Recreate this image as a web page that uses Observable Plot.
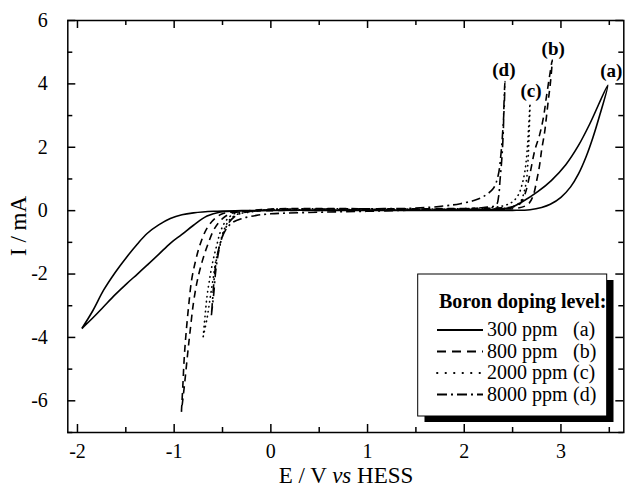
<!DOCTYPE html>
<html><head><meta charset="utf-8">
<script src="https://cdn.jsdelivr.net/npm/d3@7"></script>
<script src="https://cdn.jsdelivr.net/npm/@observablehq/plot@0.6"></script>
<style>body{margin:0;background:#fff}</style>
</head><body><div id="chart"></div>
<script>
// ---- data: potential E (V vs HESS) and current I (mA), in scan order ----
const a_E = [-1.955,-1.84,-1.73,-1.61,-1.49,-1.38,-1.28,-1.16,-1.04,-0.92,-0.80,-0.59,-0.30,0.00,0.50,1.00,1.50,2.00,2.30,2.50,2.68,2.80,2.89,3.00,3.10,3.18,3.26,3.33,3.40,3.485,3.30,3.18,3.05,2.90,2.76,2.60,2.48,2.30,2.00,1.50,1.00,0.50,0.00,-0.30,-0.52,-0.66,-0.80,-0.92,-1.04,-1.16,-1.28,-1.38,-1.49,-1.61,-1.73,-1.84,-1.955];
const a_I = [-3.72,-3.15,-2.51,-1.95,-1.46,-1.05,-0.72,-0.45,-0.25,-0.13,-0.07,-0.02,0.00,0.01,0.01,0.01,0.01,0.01,0.01,0.01,0.03,0.10,0.20,0.42,0.75,1.15,1.70,2.30,3.00,3.96,2.75,2.05,1.45,0.95,0.60,0.28,0.10,0.04,0.03,0.02,0.02,0.02,0.01,-0.01,-0.04,-0.17,-0.46,-0.75,-1.03,-1.38,-1.72,-2.00,-2.30,-2.65,-3.03,-3.38,-3.72];
const b_E = [-0.925,-0.91,-0.895,-0.875,-0.85,-0.82,-0.78,-0.73,-0.66,-0.58,-0.50,-0.35,0.00,0.50,1.00,1.50,2.00,2.30,2.55,2.66,2.71,2.75,2.78,2.80,2.83,2.85,2.87,2.89,2.91,2.88,2.85,2.82,2.78,2.73,2.68,2.63,2.58,2.50,2.30,2.00,1.50,1.00,0.50,0.00,-0.30,-0.42,-0.50,-0.58,-0.65,-0.71,-0.76,-0.80,-0.835,-0.86,-0.89,-0.925];
const b_I = [-6.35,-5.50,-4.60,-3.80,-3.00,-2.20,-1.60,-1.05,-0.55,-0.25,-0.10,-0.03,0.00,0.01,0.02,0.03,0.04,0.05,0.08,0.20,0.45,0.96,1.45,1.91,2.45,2.96,3.50,4.00,4.75,4.20,3.60,2.96,2.40,1.91,1.17,0.54,0.23,0.12,0.08,0.07,0.06,0.06,0.07,0.05,-0.03,-0.10,-0.25,-0.55,-1.05,-1.60,-2.20,-2.90,-3.80,-4.50,-5.40,-6.35];
const c_E = [-0.70,-0.68,-0.66,-0.63,-0.60,-0.56,-0.52,-0.46,-0.38,-0.20,0.00,0.50,1.00,1.50,2.00,2.30,2.50,2.58,2.62,2.645,2.66,2.67,2.68,2.665,2.65,2.63,2.60,2.56,2.50,2.40,2.20,2.00,1.50,1.00,0.50,0.00,-0.20,-0.35,-0.43,-0.49,-0.53,-0.57,-0.60,-0.63,-0.66,-0.70];
const c_I = [-3.98,-3.30,-2.70,-2.10,-1.60,-1.10,-0.65,-0.30,-0.10,-0.02,0.02,0.03,0.04,0.04,0.05,0.05,0.12,0.28,0.60,1.00,1.60,2.30,3.38,2.60,1.90,1.30,0.85,0.50,0.28,0.15,0.08,0.06,0.05,0.05,0.06,0.04,-0.04,-0.12,-0.30,-0.65,-1.10,-1.60,-2.20,-2.80,-3.40,-3.98];
const d_E = [-0.615,-0.59,-0.57,-0.54,-0.50,-0.45,-0.38,-0.28,0.00,0.50,1.00,1.50,1.80,1.96,2.10,2.20,2.30,2.35,2.38,2.40,2.415,2.42,2.41,2.405,2.39,2.37,2.355,2.33,2.20,2.00,1.50,1.00,0.50,0.00,-0.15,-0.30,-0.40,-0.47,-0.52,-0.56,-0.585,-0.60,-0.615];
const d_I = [-3.30,-2.60,-1.90,-1.30,-0.80,-0.45,-0.20,-0.06,0.03,0.05,0.06,0.08,0.15,0.22,0.32,0.45,0.70,1.10,1.80,2.60,3.40,4.07,3.30,2.60,1.70,0.96,0.44,0.18,0.10,0.06,0.02,-0.02,-0.05,-0.10,-0.15,-0.25,-0.38,-0.62,-1.00,-1.50,-2.10,-2.70,-3.30];

const curveKeys   = ["a","b","c","d"];
const curveNames  = ["300 ppm","800 ppm","2000 ppm","8000 ppm"];
const curveDash   = [null,"7,5","0.5,4.5","9,4,2,4"];
const curveCap    = ["butt","butt","round","butt"];
const labelText   = ["(a)","(b)","(c)","(d)"];
const labelE      = [3.52,2.92,2.69,2.41];
const labelI      = [4.42,5.09,3.78,4.45];
const xMajor = [-2,-1,0,1,2,3];
const xMinor = [-1.5,-0.5,0.5,1.5,2.5,3.5];
const yMajor = [-6,-4,-2,0,2,4,6];
const yMinor = [-7,-5,-3,-1,1,3,5];
const xDomain = [-2.1, 3.65];
const yDomain = [-7, 6];

const series = [[a_E,a_I],[b_E,b_I],[c_E,c_I],[d_E,d_I]];
const rows = series.map((s,k) => s[0].map((e,i) => ({curve: curveKeys[k], E: e, I: s[1][i]})));
const labels = labelText.map((t,i) => ({t, E: labelE[i], I: labelI[i]}));

const FONT = "'Liberation Serif', 'Times New Roman', serif";
const fmt = d => String(d);
const W = 625, H = 490, ML = 67.3, MR = 1.7, MT = 20, MB = 58;
const PW = W - ML - MR, PH = H - MT - MB;
const TICK = {stroke: "black", strokeWidth: 1.5};

const svg = Plot.plot({
  width: W, height: H,
  marginLeft: ML, marginRight: MR, marginTop: MT, marginBottom: MB,
  style: {fontFamily: FONT, fontSize: "20px", color: "black", background: "white"},
  x: {domain: xDomain},
  y: {domain: yDomain},
  marks: [
    ...rows.map((r,k) => Plot.line(r, {x: "E", y: "I", stroke: "black", strokeWidth: 1.6,
      strokeDasharray: curveDash[k], strokeLinecap: curveCap[k], curve: "catmull-rom"})),
    Plot.text(labels, {x: "E", y: "I", text: "t", fontWeight: "bold", fontSize: 19, textAnchor: "middle", lineAnchor: "middle"}),
    Plot.axisX({anchor: "bottom", ticks: xMajor, tickSize: 0, tickPadding: 11, tickFormat: fmt, fontSize: 20, label: null}),
    Plot.axisY({anchor: "left", ticks: yMajor, tickSize: 0, tickPadding: 20, tickFormat: fmt, fontSize: 20, label: null}),
    // inward ticks: full-height rules trimmed by insets to short stubs at each edge
    Plot.ruleX(xMajor, {x: d => d, insetTop: PH - 8, ...TICK}),
    Plot.ruleX(xMajor, {x: d => d, insetBottom: PH - 8, ...TICK}),
    Plot.ruleX(xMinor, {x: d => d, insetTop: PH - 5, ...TICK}),
    Plot.ruleX(xMinor, {x: d => d, insetBottom: PH - 5, ...TICK}),
    Plot.ruleY(yMajor, {y: d => d, insetRight: PW - 8, ...TICK}),
    Plot.ruleY(yMajor, {y: d => d, insetLeft: PW - 8, ...TICK}),
    Plot.ruleY(yMinor, {y: d => d, insetRight: PW - 5, ...TICK}),
    Plot.ruleY(yMinor, {y: d => d, insetLeft: PW - 5, ...TICK}),
    Plot.frame({stroke: "black", strokeWidth: 1.5})
  ]
});

const s = d3.select(svg);
s.selectAll("text").attr("font-family", FONT);

// axis titles
const xt = s.append("text").attr("x", 346).attr("y", 483).attr("text-anchor", "middle")
  .attr("font-family", FONT).attr("font-size", 23).attr("fill", "black");
xt.append("tspan").text("E / V ");
xt.append("tspan").attr("font-style", "italic").text("vs");
xt.append("tspan").text(" HESS");
s.append("text").attr("transform", "translate(26,226) rotate(-90)").attr("text-anchor", "middle")
  .attr("font-family", FONT).attr("font-size", 23).attr("fill", "black").text("I / mA");

// legend box with shadow
const lg = s.append("g").attr("text-anchor", "start").attr("font-family", FONT);
lg.append("rect").attr("x", 424.5).attr("y", 280).attr("width", 189).attr("height", 142).attr("fill", "black");
lg.append("rect").attr("x", 417.7).attr("y", 274).attr("width", 189).attr("height", 142)
  .attr("fill", "white").attr("stroke", "black").attr("stroke-width", 1);
lg.append("text").attr("x", 439).attr("y", 308).attr("font-size", 20).attr("font-weight", "bold")
  .attr("font-family", FONT).attr("text-anchor", "start").attr("fill", "black").text("Boron doping level:");
const base0 = 336, step = 21.5;
const legDash = ["", "9,6", "0.5,8", "10,4,2,4"];
curveKeys.forEach((k,i) => {
  const by = base0 + i*step;
  lg.append("line").attr("x1", 437).attr("x2", 483).attr("y1", by-6).attr("y2", by-6)
    .attr("stroke", "black").attr("stroke-width", 1.8)
    .attr("stroke-dasharray", legDash[i] || null).attr("stroke-linecap", curveCap[i]);
  lg.append("text").attr("x", 487).attr("y", by).attr("font-size", 20).attr("text-anchor", "start")
    .attr("font-family", FONT).attr("fill", "black").text(curveNames[i]);
  lg.append("text").attr("x", 573).attr("y", by).attr("font-size", 20).attr("text-anchor", "start")
    .attr("font-family", FONT).attr("fill", "black").text(labelText[i]);
});

document.getElementById("chart").appendChild(svg);
</script>
</body></html>
